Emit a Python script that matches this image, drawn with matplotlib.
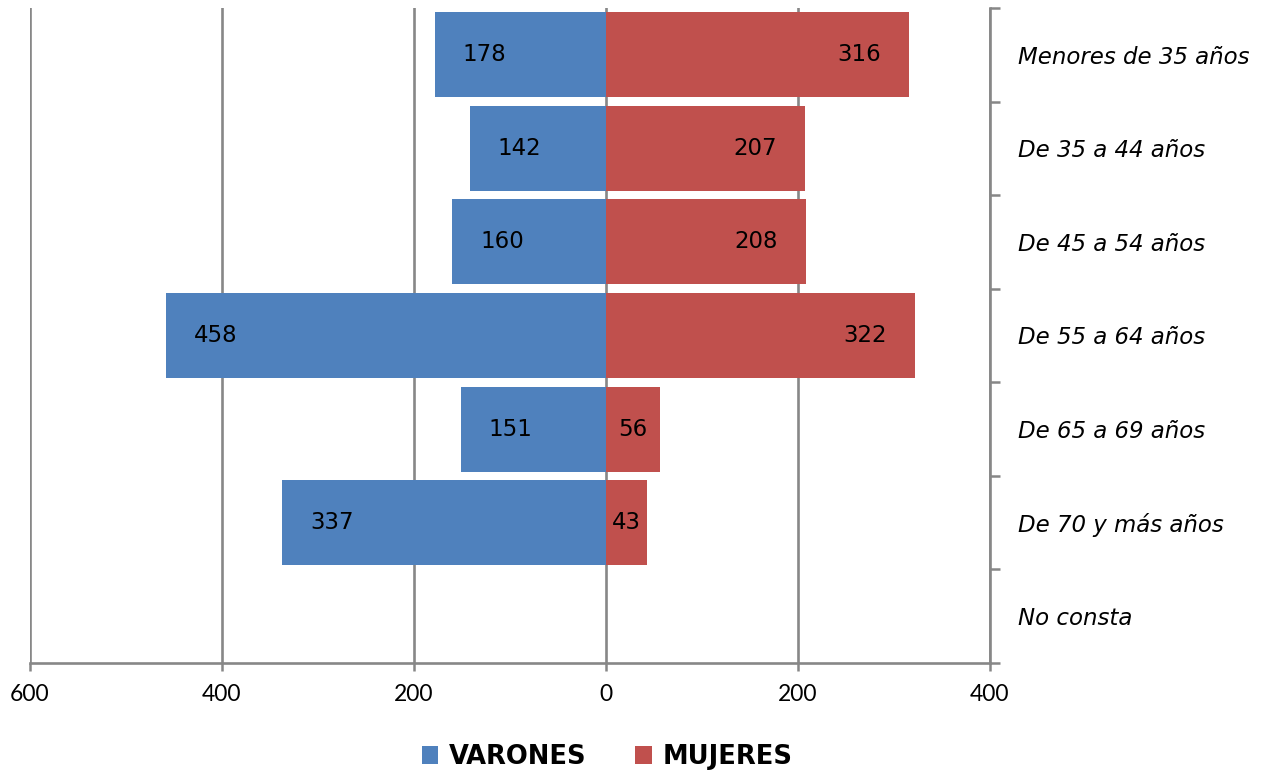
import numpy as np
import matplotlib.pyplot as plt
from matplotlib.patches import Patch

categorias = ["Menores de 35 años", "De 35 a 44 años", "De 45 a 54 años",
              "De 55 a 64 años", "De 65 a 69 años", "De 70 y más años", "No consta"]
varones = [178, 142, 160, 458, 151, 337, 0]
mujeres = [316, 207, 208, 322, 56, 43, 0]
xticks = [-600, -400, -200, 0, 200, 400]

AZUL = "#4F81BD"
ROJO = "#C0504D"
GRIS = "#878787"
ANCHA = ['DejaVu Sans']

plt.rcParams['font.family'] = ['Lato', 'DejaVu Sans']

fig = plt.figure(figsize=(12.86, 7.74), dpi=100)
ax = fig.add_axes([0.0233, 0.1434, 0.7465, 0.8463])

y = np.arange(len(categorias))
ax.barh(y, [-v for v in varones], height=0.909, color=AZUL, zorder=3)
ax.barh(y, mujeres, height=0.909, color=ROJO, zorder=3)

# etiquetas de datos (extremo interior)
pad = 29
fs_dato = 16.5
for i, (v, m) in enumerate(zip(varones, mujeres)):
    if v > 0:
        if v > 100:
            ax.text(-v + pad, i, str(v), ha='left', va='center', fontsize=fs_dato,
                    family=ANCHA, zorder=4)
        else:
            ax.text(-v / 2, i, str(v), ha='center', va='center', fontsize=fs_dato,
                    family=ANCHA, zorder=4)
    if m > 0:
        if m > 100:
            ax.text(m - pad, i, str(m), ha='right', va='center', fontsize=fs_dato,
                    family=ANCHA, zorder=4)
        else:
            ax.text(m / 2, i, str(m), ha='center', va='center', fontsize=fs_dato,
                    family=ANCHA, zorder=4)

ax.set_xlim(-600, 400)
ax.set_ylim(len(categorias) - 0.5, -0.5)

ax.set_xticks(xticks)
ax.set_xticklabels([str(abs(t)) for t in xticks], fontsize=16.5)
ax.tick_params(axis='x', direction='out', length=6, width=1.8, color=GRIS, pad=9)
ax.grid(axis='x', color=GRIS, linewidth=1.9, zorder=0)

ax.yaxis.tick_right()
ax.set_yticks(y)
ax.set_yticklabels(categorias, fontsize=16.5, style='italic', family=ANCHA)
ax.set_yticks(np.arange(len(categorias) + 1) - 0.5, minor=True)
ax.tick_params(axis='y', which='major', length=0, pad=20)
ax.tick_params(axis='y', which='minor', direction='out', length=7, width=1.8,
               color=GRIS, right=True, left=False)

for s in ['top', 'left']:
    ax.spines[s].set_visible(False)
for s in ['bottom', 'right']:
    ax.spines[s].set_color(GRIS)
    ax.spines[s].set_linewidth(1.9)

handles = [Patch(facecolor=AZUL, label="VARONES"), Patch(facecolor=ROJO, label="MUJERES")]
fig.legend(handles=handles, loc='center', bbox_to_anchor=(0.472, 0.022), ncol=2,
           frameon=False, handlelength=0.65, handleheight=0.65, handletextpad=0.4,
           columnspacing=1.9, prop={'size': 18.5, 'weight': 'bold', 'family': ANCHA})

fig.savefig("out.png", dpi=100)
